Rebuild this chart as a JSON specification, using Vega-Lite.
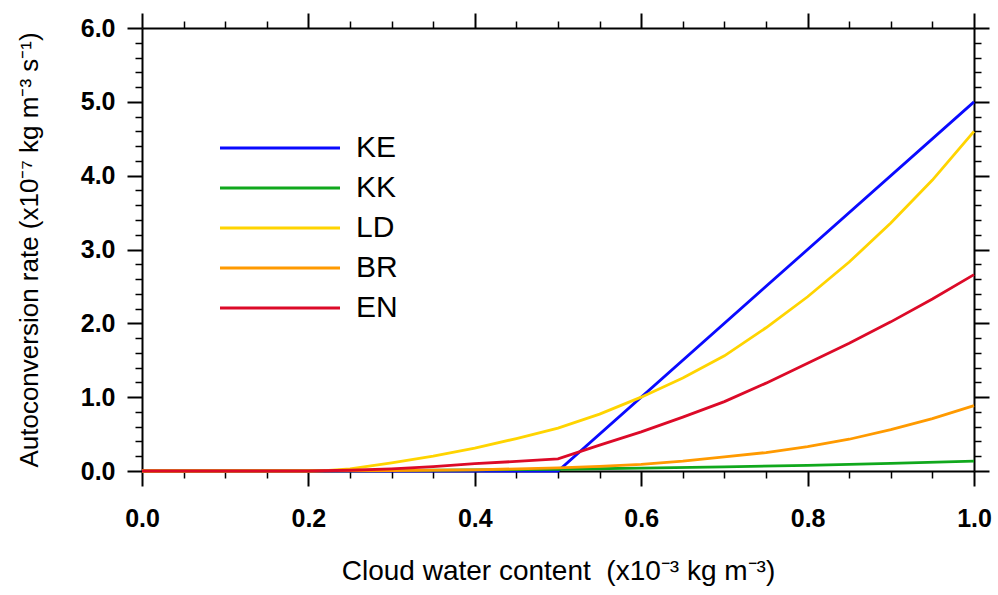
{
  "$schema": "https://vega.github.io/schema/vega-lite/v6.json",
  "width": 832,
  "height": 443,
  "autosize": {"type": "none"},
  "padding": {"left": 142, "top": 28, "right": 24, "bottom": 124},
  "background": "white",
  "config": {
    "view": {"stroke": null},
    "font": "Liberation Sans",
    "axis": {"domainColor": "black", "domainWidth": 2, "tickColor": "black", "grid": false, "labelColor": "black", "titleColor": "black"}
  },
  "data": {"values": [
    {"s": "KE", "x": 0.0, "v": 0.0}, {"s": "KE", "x": 0.5, "v": 0.0}, {"s": "KE", "x": 1.0, "v": 5.0},
    {"s": "KK", "x": 0.0, "v": 0.0}, {"s": "KK", "x": 0.1, "v": 0.0005}, {"s": "KK", "x": 0.2, "v": 0.003}, {"s": "KK", "x": 0.3, "v": 0.007}, {"s": "KK", "x": 0.4, "v": 0.014}, {"s": "KK", "x": 0.5, "v": 0.024}, {"s": "KK", "x": 0.6, "v": 0.038}, {"s": "KK", "x": 0.7, "v": 0.056}, {"s": "KK", "x": 0.8, "v": 0.077}, {"s": "KK", "x": 0.9, "v": 0.104}, {"s": "KK", "x": 1.0, "v": 0.135},
    {"s": "LD", "x": 0.0, "v": 0.0}, {"s": "LD", "x": 0.2, "v": 0.0}, {"s": "LD", "x": 0.22, "v": 0.005}, {"s": "LD", "x": 0.25, "v": 0.03}, {"s": "LD", "x": 0.3, "v": 0.11}, {"s": "LD", "x": 0.35, "v": 0.2}, {"s": "LD", "x": 0.4, "v": 0.31}, {"s": "LD", "x": 0.45, "v": 0.44}, {"s": "LD", "x": 0.5, "v": 0.58}, {"s": "LD", "x": 0.55, "v": 0.77}, {"s": "LD", "x": 0.6, "v": 1.0}, {"s": "LD", "x": 0.65, "v": 1.26}, {"s": "LD", "x": 0.7, "v": 1.56}, {"s": "LD", "x": 0.75, "v": 1.94}, {"s": "LD", "x": 0.8, "v": 2.36}, {"s": "LD", "x": 0.85, "v": 2.83}, {"s": "LD", "x": 0.9, "v": 3.36}, {"s": "LD", "x": 0.95, "v": 3.94}, {"s": "LD", "x": 1.0, "v": 4.6},
    {"s": "BR", "x": 0.0, "v": 0.0}, {"s": "BR", "x": 0.2, "v": 0.001}, {"s": "BR", "x": 0.3, "v": 0.005}, {"s": "BR", "x": 0.4, "v": 0.016}, {"s": "BR", "x": 0.5, "v": 0.042}, {"s": "BR", "x": 0.55, "v": 0.063}, {"s": "BR", "x": 0.6, "v": 0.09}, {"s": "BR", "x": 0.65, "v": 0.133}, {"s": "BR", "x": 0.7, "v": 0.19}, {"s": "BR", "x": 0.75, "v": 0.25}, {"s": "BR", "x": 0.8, "v": 0.33}, {"s": "BR", "x": 0.85, "v": 0.43}, {"s": "BR", "x": 0.9, "v": 0.56}, {"s": "BR", "x": 0.95, "v": 0.71}, {"s": "BR", "x": 1.0, "v": 0.885},
    {"s": "EN", "x": 0.0, "v": 0.0}, {"s": "EN", "x": 0.2, "v": 0.0}, {"s": "EN", "x": 0.25, "v": 0.01}, {"s": "EN", "x": 0.3, "v": 0.03}, {"s": "EN", "x": 0.35, "v": 0.06}, {"s": "EN", "x": 0.4, "v": 0.1}, {"s": "EN", "x": 0.45, "v": 0.13}, {"s": "EN", "x": 0.5, "v": 0.165}, {"s": "EN", "x": 0.55, "v": 0.35}, {"s": "EN", "x": 0.6, "v": 0.53}, {"s": "EN", "x": 0.65, "v": 0.73}, {"s": "EN", "x": 0.7, "v": 0.94}, {"s": "EN", "x": 0.75, "v": 1.19}, {"s": "EN", "x": 0.8, "v": 1.46}, {"s": "EN", "x": 0.85, "v": 1.73}, {"s": "EN", "x": 0.9, "v": 2.02}, {"s": "EN", "x": 0.95, "v": 2.33}, {"s": "EN", "x": 1.0, "v": 2.66}
  ]},
  "resolve": {"axis": {"x": "independent", "y": "independent"}},
  "layer": [
    {
      "mark": {"type": "line", "strokeWidth": 2.8},
      "encoding": {
        "x": {"field": "x", "type": "quantitative", "scale": {"domain": [0, 1], "nice": false},
          "axis": {"orient": "bottom", "values": [0, 0.2, 0.4, 0.6, 0.8, 1.0], "format": ".1f", "labelFlush": false, "labelOverlap": false, "tickSize": 15, "tickWidth": 2, "labelFontSize": 25, "labelFontWeight": "bold", "labelPadding": 20, "title": "Cloud water content\u00a0 (x10⁻³ kg m⁻³)", "titleFontSize": 28, "titleFontWeight": "normal", "titlePadding": 26}},
        "y": {"field": "v", "type": "quantitative", "scale": {"domain": [0, 6], "nice": false},
          "axis": {"orient": "left", "values": [0, 1, 2, 3, 4, 5, 6], "format": ".1f", "labelFlush": false, "labelOverlap": false, "tickSize": 15, "tickWidth": 2, "labelFontSize": 25, "labelFontWeight": "bold", "labelPadding": 12, "title": "Autoconversion rate (x10⁻⁷ kg m⁻³ s⁻¹)", "titleFontSize": 26, "titleFontWeight": "normal", "titlePadding": 38}},
        "color": {"field": "s", "type": "nominal", "sort": ["KE", "KK", "LD", "BR", "EN"],
          "scale": {"domain": ["KE", "KK", "LD", "BR", "EN"], "range": ["#0a0aff", "#10a81c", "#ffd400", "#ff9a00", "#dc0a28"]},
          "legend": {"orient": "none", "legendX": 123, "legendY": 105, "title": null, "symbolType": "M-6,0H6", "symbolSize": 400, "symbolStrokeWidth": 2.8, "labelFontSize": 30, "labelOffset": 61, "rowPadding": 10, "labelColor": "black"}}
      }
    },
    {
      "mark": {"type": "point", "opacity": 0},
      "encoding": {
        "x": {"field": "x", "type": "quantitative", "axis": {"orient": "top", "values": [0, 0.2, 0.4, 0.6, 0.8, 1.0], "labels": false, "title": null, "tickSize": 15, "tickWidth": 2}},
        "y": {"field": "v", "type": "quantitative", "axis": {"orient": "right", "values": [0, 1, 2, 3, 4, 5, 6], "labels": false, "title": null, "tickSize": 15, "tickWidth": 2}}
      }
    },
    {
      "mark": {"type": "point", "opacity": 0},
      "encoding": {
        "x": {"field": "x", "type": "quantitative", "axis": {"orient": "bottom", "values": [0.05, 0.1, 0.15, 0.25, 0.3, 0.35, 0.45, 0.5, 0.55, 0.65, 0.7, 0.75, 0.85, 0.9, 0.95], "labels": false, "title": null, "domain": false, "tickSize": 7, "tickWidth": 1.5}},
        "y": {"field": "v", "type": "quantitative", "axis": {"orient": "left", "values": [0.2, 0.4, 0.6, 0.8, 1.2, 1.4, 1.6, 1.8, 2.2, 2.4, 2.6, 2.8, 3.2, 3.4, 3.6, 3.8, 4.2, 4.4, 4.6, 4.8, 5.2, 5.4, 5.6, 5.8], "labels": false, "title": null, "domain": false, "tickSize": 7, "tickWidth": 1.5}}
      }
    },
    {
      "mark": {"type": "point", "opacity": 0},
      "encoding": {
        "x": {"field": "x", "type": "quantitative", "axis": {"orient": "top", "values": [0.05, 0.1, 0.15, 0.25, 0.3, 0.35, 0.45, 0.5, 0.55, 0.65, 0.7, 0.75, 0.85, 0.9, 0.95], "labels": false, "title": null, "domain": false, "tickSize": 7, "tickWidth": 1.5}},
        "y": {"field": "v", "type": "quantitative", "axis": {"orient": "right", "values": [0.2, 0.4, 0.6, 0.8, 1.2, 1.4, 1.6, 1.8, 2.2, 2.4, 2.6, 2.8, 3.2, 3.4, 3.6, 3.8, 4.2, 4.4, 4.6, 4.8, 5.2, 5.4, 5.6, 5.8], "labels": false, "title": null, "domain": false, "tickSize": 7, "tickWidth": 1.5}}
      }
    }
  ]
}
